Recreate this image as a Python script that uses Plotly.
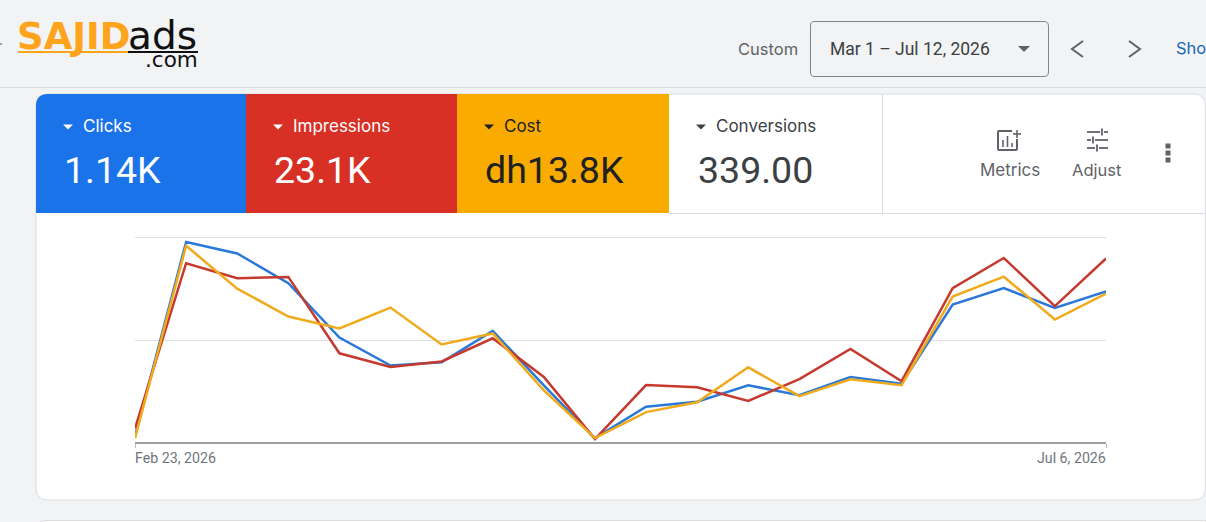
import plotly.graph_objects as go

W, H = 1206, 522

# Weekly performance figures
weeks = ["2026-02-23", "2026-03-02", "2026-03-09", "2026-03-16", "2026-03-23",
         "2026-03-30", "2026-04-06", "2026-04-13", "2026-04-20", "2026-04-27",
         "2026-05-04", "2026-05-11", "2026-05-18", "2026-05-25", "2026-06-01",
         "2026-06-08", "2026-06-15", "2026-06-22", "2026-06-29", "2026-07-06"]
clicks = [4, 122, 115, 97, 64, 47, 49, 68, 35, 3, 22, 25, 35, 29, 40, 36, 84, 94, 82, 92]
impressions = [170, 2095, 1920, 1935, 1045, 885, 950, 1220, 770, 45,
               675, 650, 490, 745, 1095, 720, 1805, 2155, 1595, 2150]
cost = [36, 1436, 1124, 921, 834, 986, 718, 798, 384, 36,
        225, 297, 551, 341, 464, 421, 1066, 1211, 899, 1088]

clicks_ticks = [0, 62.5, 125]
impressions_ticks = [0, 1200, 2400]
cost_ticks = [0, 750, 1500]

date_labels = ["Feb 23, 2026", "Jul 6, 2026"]

scorecards = [
    ("Clicks", "1.14K", "#1a73e8", "#ffffff", 36, 246),
    ("Impressions", "23.1K", "#d93025", "#ffffff", 246, 457),
    ("Cost", "dh13.8K", "#f9ab00", "#202124", 457, 669),
    ("Conversions", "339.00", "#ffffff", "#3c4043", 669, 882),
]

PAGE = "#f1f3f4"
BLUE_LINE, RED_LINE, YELLOW_LINE = "#2a78d8", "#c5392f", "#f0ab1c"
PLOT_L, PLOT_R, PLOT_T, PLOT_B = 135, 1106, 237, 443
UI_FONT = "Inter"


def px(x):
    return x / W


def py(y):
    return 1 - y / H


def path(*cmds):
    """Build an SVG path in paper coordinates from (command, x, y, ...) tuples."""
    out = []
    for c in cmds:
        if len(c) == 1:
            out.append(c[0])
            continue
        nums = []
        for i, v in enumerate(c[1:]):
            nums.append(f"{px(v) if i % 2 == 0 else py(v):.5f}")
        out.append(c[0] + " " + " ".join(nums))
    return " ".join(out)


shapes = []


def add_path(d, fill="rgba(0,0,0,0)", line=None, width=1, layer="below"):
    shapes.append(dict(type="path", xref="paper", yref="paper", path=d, fillcolor=fill,
                       line=dict(color=line or "rgba(0,0,0,0)", width=width if line else 0),
                       layer=layer))


def add_line(x0, y0, x1, y1, color, width=1):
    add_path(path(("M", x0, y0), ("L", x1, y1)), line=color, width=width)


def add_rect(x0, y0, x1, y1, color):
    add_path(path(("M", x0, y0), ("L", x1, y0), ("L", x1, y1), ("L", x0, y1), ("Z",)), fill=color)


def triangle(cx, cy, color, half=5, tall=5):
    add_path(path(("M", cx - half, cy - tall / 2), ("L", cx + half, cy - tall / 2),
                  ("L", cx, cy + tall / 2), ("Z",)), fill=color)


annotations = []


def label(x, y, text, size, color, anchor="left", family="Roboto", weight=None):
    f = dict(family=family, size=size, color=color)
    if weight:
        f["weight"] = weight
    annotations.append(dict(xref="paper", yref="paper", x=px(x), y=py(y), text=text,
                            xanchor=anchor, yanchor="middle", showarrow=False, font=f,
                            borderpad=0, borderwidth=0))


# Header rule and page chrome
add_line(0, 87.5, W, 87.5, "#dadce0")
add_line(0, 44, 2, 44, "#555555")

# Main card with rounded corners
card = path(("M", 36, 106), ("Q", 36, 94, 48, 94), ("L", 1194, 94), ("Q", 1205.5, 94, 1205.5, 106),
            ("L", 1205.5, 488), ("Q", 1205.5, 500, 1194, 500), ("L", 48, 500), ("Q", 36, 500, 36, 488), ("Z",))
add_path(card, fill="#ffffff", line="#dadce0", width=1)

# Next card peeking in at the bottom of the page
add_path(path(("M", 38, 530), ("L", 38, 526), ("Q", 38, 520.5, 46, 520.5), ("L", W, 520.5), ("L", W, 530), ("Z",)),
         fill="#ffffff", line="#dadce0", width=1)

# Scorecard tiles
for name, value, bg, fg, x0, x1 in scorecards:
    if x0 == 36:
        add_path(path(("M", 36, 213), ("L", 36, 106), ("Q", 36, 94, 48, 94), ("L", x1, 94), ("L", x1, 213), ("Z",)), fill=bg)
    elif bg != "#ffffff":
        add_rect(x0, 94, x1, 213, bg)
    triangle(x0 + 32, 127, fg)
    label(x0 + 47, 126.5, name, 17, fg, family=UI_FONT)
    label(x0 + 27.5 if x0 < 669 else x0 + 29, 170, value, 37.5, fg)

add_line(669, 213.5, 1205, 213.5, "#dadce0")
add_line(882.5, 94, 882.5, 213, "#dadce0")

# Date range selector
add_path(path(("M", 814, 21.5), ("L", 1044, 21.5), ("Q", 1048.5, 21.5, 1048.5, 26), ("L", 1048.5, 72),
              ("Q", 1048.5, 76.5, 1044, 76.5), ("L", 814, 76.5), ("Q", 810.5, 76.5, 810.5, 72),
              ("L", 810.5, 26), ("Q", 810.5, 21.5, 814, 21.5), ("Z",)), line="#80868b", width=1)
label(738, 49, "Custom", 16.5, "#5f6368", family=UI_FONT)
label(830, 49, "Mar 1 – Jul 12, 2026", 17.5, "#3c4043")
triangle(1024, 49, "#5f6368", half=6, tall=6)
add_path(path(("M", 1083, 41), ("L", 1072, 49), ("L", 1083, 57)), line="#5f6368", width=2)
add_path(path(("M", 1129, 41), ("L", 1140, 49), ("L", 1129, 57)), line="#5f6368", width=2)
label(1176, 48, "Sho", 16.5, "#1a66b8", family=UI_FONT)

# Metrics icon
add_path(path(("M", 1012, 131), ("L", 999, 131), ("Q", 998, 131, 998, 132), ("L", 998, 149),
              ("Q", 998, 150, 999, 150), ("L", 1016, 150), ("Q", 1017, 150, 1017, 149), ("L", 1017, 139)),
         line="#5f6368", width=2)
for bar_x, bar_top in [(1003, 140), (1007.5, 136), (1012, 143)]:
    add_line(bar_x, bar_top, bar_x, 147, "#5f6368", 1.6)
add_line(1017, 130, 1017, 138, "#5f6368", 1.6)
add_line(1013, 134, 1021, 134, "#5f6368", 1.6)
label(1010, 170, "Metrics", 17, "#5f6368", anchor="center", family=UI_FONT)

# Adjust icon
for y0, xa, xb, xc, xd, knob in [(132, 1087, 1100, 1104, 1108, 1102), (140, 1087, 1091, 1095, 1108, 1093),
                                 (148, 1087, 1095, 1099, 1108, 1097)]:
    add_line(xa, y0, xb, y0, "#5f6368", 1.8)
    add_line(xc, y0, xd, y0, "#5f6368", 1.8)
    add_line(knob, y0 - 3.5, knob, y0 + 3.5, "#5f6368", 1.8)
label(1096.5, 170, "Adjust", 16.5, "#5f6368", anchor="center", family=UI_FONT)

# Overflow menu dots
for dot_y in (146, 153, 160):
    add_rect(1165.5, dot_y - 2.5, 1170.5, dot_y + 2.5, "#5f6368")

# Brand logo
label(17, 36.5, "SAJID", 37, "#ffa41c", family="DejaVu Sans", weight=700)
label(127.5, 35.5, "ads", 39, "#111111", family="DejaVu Sans")
label(198, 60, ".com", 21.5, "#111111", anchor="right", family="DejaVu Sans")
add_line(18, 52, 128, 52, "#ffa41c", 2)
add_line(128, 52, 198, 52, "#111111", 2)

# Chart
fig = go.Figure()
series = [("Clicks", clicks, BLUE_LINE, "y"), ("Impressions", impressions, RED_LINE, "y2"), ("Cost", cost, YELLOW_LINE, "y3")]
for name, values, color, axis in series:
    fig.add_trace(go.Scatter(x=weeks, y=values, name=name, mode="lines", yaxis=axis,
                             line=dict(color=color, width=2.5), cliponaxis=False))

# Top gridline and baseline sit on the range limits, so they are drawn explicitly
add_line(PLOT_L, PLOT_T + 0.5, PLOT_R, PLOT_T + 0.5, "#e0e0e0", 1)
add_line(PLOT_L, PLOT_B, PLOT_R, PLOT_B, "#9e9e9e", 2)

domain_y = [py(PLOT_B), py(PLOT_T)]
for date, text, anchor, nudge in [(weeks[0], date_labels[0], "left", -1), (weeks[-1], date_labels[1], "right", 1)]:
    annotations.append(dict(xref="x", yref="paper", x=date, y=py(458), text=text, xanchor=anchor, xshift=nudge,
                            yanchor="middle", showarrow=False, borderpad=0,
                            font=dict(family="Roboto", size=14.2, color="#70757a")))

fig.update_layout(
    width=W, height=H, autosize=False,
    margin=dict(l=0, r=0, t=0, b=0, pad=0),
    paper_bgcolor=PAGE, plot_bgcolor="rgba(0,0,0,0)",
    showlegend=False,
    shapes=shapes, annotations=annotations,
    xaxis=dict(type="date", domain=[px(PLOT_L), px(PLOT_R)], range=[weeks[0], weeks[-1]],
               showgrid=False, zeroline=False, showline=False,
               tickmode="array", tickvals=[weeks[0], weeks[-1]], ticktext=["", ""],
               ticks="outside", ticklen=4, tickcolor="#bdbdbd", tickwidth=1),
    yaxis=dict(domain=domain_y, range=[0, clicks_ticks[-1]], tickmode="array", tickvals=clicks_ticks,
               showticklabels=False, showgrid=True, gridcolor="#e0e0e0", gridwidth=1, zeroline=False, showline=False),
    yaxis2=dict(domain=domain_y, range=[0, impressions_ticks[-1]], tickmode="array", tickvals=impressions_ticks,
                overlaying="y", showticklabels=False, showgrid=False, zeroline=False, showline=False),
    yaxis3=dict(domain=domain_y, range=[0, cost_ticks[-1]], tickmode="array", tickvals=cost_ticks,
                overlaying="y", showticklabels=False, showgrid=False, zeroline=False, showline=False),
)

fig.write_html("out.html", config={"displayModeBar": False})
